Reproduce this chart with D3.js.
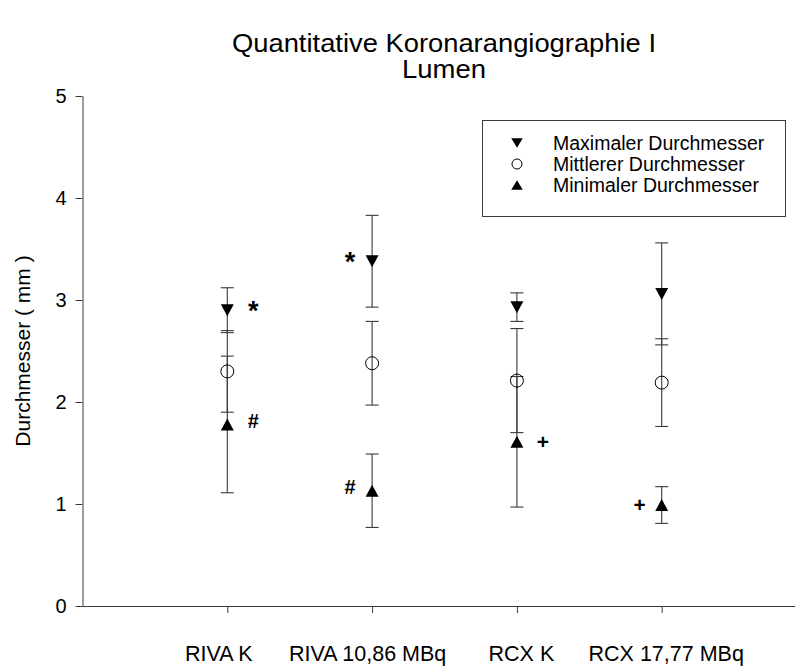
<!DOCTYPE html>
<html>
<head>
<meta charset="utf-8">
<script src="https://cdn.jsdelivr.net/npm/d3@7/dist/d3.min.js"></script>
<style>
  html, body { margin: 0; padding: 0; background: #fff; }
  svg { display: block; font-family: "Liberation Sans", Arial, Helvetica, sans-serif; }
</style>
</head>
<body>
<svg id="chart" width="795" height="666"></svg>
<script>
// Vessel diameters (mm): mean ± SD for each segment / group
const categories = ["RIVA K", "RIVA 10,86 MBq", "RCX K", "RCX 17,77 MBq"];
const maxValues  = [2.90, 3.38, 2.93, 3.06];
const maxErrors  = [0.22, 0.45, 0.14, 0.50];
const meanValues = [2.30, 2.38, 2.21, 2.19];
const meanErrors = [0.40, 0.41, 0.51, 0.43];
const minValues  = [1.78, 1.13, 1.61, 0.99];
const minErrors  = [0.67, 0.36, 0.64, 0.18];
const yTicks = [0, 1, 2, 3, 4, 5];
const seriesNames = ["Maximaler Durchmesser", "Mittlerer Durchmesser", "Minimaler Durchmesser"];

// Significance marks: category index, series, symbol, side of the marker
const marks = [
  { cat: 0, series: "max", symbol: "*", side: 1 },
  { cat: 0, series: "min", symbol: "#", side: 1 },
  { cat: 1, series: "max", symbol: "*", side: -1 },
  { cat: 1, series: "min", symbol: "#", side: -1 },
  { cat: 2, series: "min", symbol: "+", side: 1 },
  { cat: 3, series: "min", symbol: "+", side: -1 }
];

const series = [
  { key: "max",  name: seriesNames[0], values: maxValues,  errors: maxErrors,  shape: "down" },
  { key: "mean", name: seriesNames[1], values: meanValues, errors: meanErrors, shape: "circle" },
  { key: "min",  name: seriesNames[2], values: minValues,  errors: minErrors,  shape: "up" }
];

const svg = d3.select("#chart");
const W = 795, H = 666;
svg.append("rect").attr("width", W).attr("height", H).attr("fill", "#fff");

const ink = "#000";
const lineInk = "#3a3a3a";
const fontFamily = "'Liberation Sans', Arial, sans-serif";

// Scales: categories sit at positions 1..4 on a 0..5 linear axis
const x = d3.scaleLinear().domain([0, 5]).range([82.5, 806.5]);
const y = d3.scaleLinear().domain([0, 5]).range([606, 96]);

// Y axis
const yAxis = svg.append("g")
  .attr("transform", `translate(${x(0)},0)`)
  .call(d3.axisLeft(y).tickValues(yTicks).tickFormat(d3.format("d"))
    .tickSize(7).tickSizeOuter(0).tickPadding(9));
yAxis.select(".domain").attr("stroke", lineInk);
yAxis.selectAll(".tick line").attr("stroke", lineInk);
yAxis.selectAll(".tick text")
  .attr("fill", ink).attr("font-size", 20).attr("font-family", fontFamily);

// X axis; category labels are nudged slightly off their ticks
const labelNudge = [-9, -5, 4, 4];
const xAxis = svg.append("g")
  .attr("transform", `translate(0,${y(0)})`)
  .call(d3.axisBottom(x).tickValues(categories.map((c, i) => i + 1))
    .tickFormat((d) => categories[d - 1])
    .tickSize(7).tickSizeOuter(0).tickPadding(33));
xAxis.select(".domain").attr("stroke", lineInk);
xAxis.selectAll(".tick line").attr("stroke", lineInk);
xAxis.selectAll(".tick text")
  .attr("fill", ink).attr("font-size", 21.5).attr("font-family", fontFamily)
  .attr("dx", (d) => labelNudge[d - 1]);

// Y axis title
svg.append("text")
  .attr("transform", `translate(22,${(y(0) + y(5)) / 2}) rotate(-90)`)
  .attr("text-anchor", "middle")
  .attr("dominant-baseline", "central")
  .attr("font-size", 21)
  .attr("fill", ink)
  .text("Durchmesser ( mm )");

// Title: two centred lines, slightly widened
const titleLines = [
  { text: "Quantitative Koronarangiographie I", y: 52, width: 424 },
  { text: "Lumen", y: 78, width: 84 }
];
titleLines.forEach((l) => {
  svg.append("text")
    .attr("x", 444).attr("y", l.y)
    .attr("text-anchor", "middle")
    .attr("font-size", 25.5)
    .attr("textLength", l.width)
    .attr("lengthAdjust", "spacingAndGlyphs")
    .attr("fill", ink)
    .text(l.text);
});

// Marker shapes
function markerPath(shape, w, h) {
  const p = d3.path();
  if (shape === "down") {
    p.moveTo(-w / 2, -h / 2); p.lineTo(w / 2, -h / 2); p.lineTo(0, h / 2); p.closePath();
  } else {
    p.moveTo(-w / 2, h / 2); p.lineTo(w / 2, h / 2); p.lineTo(0, -h / 2); p.closePath();
  }
  return p.toString();
}

function drawMarker(g, shape, cx, cy, size) {
  if (shape === "circle") {
    g.append("circle").attr("cx", cx).attr("cy", cy).attr("r", size.r)
      .attr("fill", "none").attr("stroke", ink).attr("stroke-width", 1);
  } else {
    g.append("path").attr("d", markerPath(shape, size.w, size.h))
      .attr("transform", `translate(${cx},${cy})`)
      .attr("fill", ink);
  }
}

const plot = svg.append("g");
const capHalf = 6.5;

// Error bars first, then markers on top
series.forEach((s) => {
  s.values.forEach((v, i) => {
    const cx = x(i + 1);
    const top = y(v + s.errors[i]);
    const bot = y(v - s.errors[i]);
    const eb = plot.append("g").attr("stroke", lineInk).attr("stroke-width", 1.1);
    eb.append("line").attr("x1", cx).attr("x2", cx).attr("y1", top).attr("y2", bot);
    eb.append("line").attr("x1", cx - capHalf).attr("x2", cx + capHalf).attr("y1", top).attr("y2", top);
    eb.append("line").attr("x1", cx - capHalf).attr("x2", cx + capHalf).attr("y1", bot).attr("y2", bot);
  });
});
series.forEach((s) => {
  s.values.forEach((v, i) => {
    drawMarker(plot, s.shape, x(i + 1), y(v), { w: 13, h: 12, r: 6.5 });
  });
});

// Significance symbols beside the markers
const glyph = {
  "*": { size: 27, lift: 0.575, rise: 6 },
  "#": { size: 20, lift: 0.36, rise: 4 },
  "+": { size: 21, lift: 0.33, rise: 0 }
};
const byKey = Object.fromEntries(series.map((s) => [s.key, s]));
marks.forEach((m) => {
  const s = byKey[m.series];
  const g = glyph[m.symbol];
  const cx = x(m.cat + 1) + m.side * (m.side > 0 ? 26 : 22);
  const cy = y(s.values[m.cat]) - g.rise;
  svg.append("text")
    .attr("x", cx).attr("y", cy + g.lift * g.size)
    .attr("text-anchor", "middle")
    .attr("font-weight", "bold")
    .attr("font-size", g.size)
    .attr("fill", ink)
    .text(m.symbol);
});

// Legend
const legend = svg.append("g");
legend.append("rect")
  .attr("x", 482.5).attr("y", 120.5).attr("width", 303).attr("height", 96)
  .attr("fill", "#fff").attr("stroke", lineInk).attr("stroke-width", 1);
series.forEach((s, i) => {
  const ly = 143 + i * 21;
  drawMarker(legend, s.shape, 517, ly, { w: 11.5, h: 9.5, r: 5 });
  legend.append("text")
    .attr("x", 553).attr("y", ly)
    .attr("dominant-baseline", "central")
    .attr("font-size", 19.5)
    .attr("fill", ink)
    .text(s.name);
});
</script>
</body>
</html>
